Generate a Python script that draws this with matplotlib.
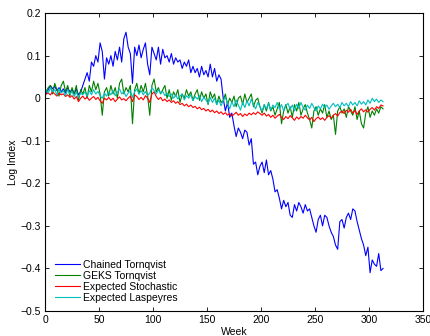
"""Log index comparison: chained vs GEKS Tornqvist and expected indexes."""

import numpy as np
import matplotlib

matplotlib.use("Agg")
import matplotlib.pyplot as plt

weeks = np.arange(1, 314, 2)

chained_tornqvist = [
    0.010, 0.020, 0.030, 0.022, 0.028, 0.018, 0.025, 0.015, 0.022, 0.012,
    0.025, 0.015, 0.020, 0.010, 0.022, 0.008, 0.015, 0.030, 0.045, 0.060,
    0.040, 0.085, 0.075, 0.100, 0.085, 0.130, 0.110, 0.045, 0.095, 0.080,
    0.100, 0.075, 0.110, 0.090, 0.120, 0.085, 0.140, 0.155, 0.120, 0.105,
    0.035, 0.120, 0.100, 0.125, 0.095, 0.115, 0.130, 0.080, 0.055, 0.120,
    0.105, 0.090, 0.120, 0.080, 0.115, 0.095, 0.100, 0.085, 0.105, 0.080,
    0.095, 0.085, 0.090, 0.070, 0.085, 0.075, 0.090, 0.060, 0.075, 0.060,
    0.070, 0.050, 0.075, 0.055, 0.065, 0.050, 0.080, 0.050, 0.070, 0.040,
    0.055, 0.045, 0.000, -0.030, -0.010, -0.045, -0.035, -0.065, -0.090, -0.070,
    -0.080, -0.095, -0.075, -0.080, -0.110, -0.095, -0.155, -0.150, -0.180, -0.160,
    -0.150, -0.175, -0.145, -0.180, -0.170, -0.190, -0.220, -0.215, -0.235, -0.260,
    -0.240, -0.255, -0.245, -0.275, -0.280, -0.250, -0.265, -0.245, -0.255, -0.270,
    -0.250, -0.265, -0.260, -0.280, -0.300, -0.315, -0.285, -0.275, -0.300, -0.275,
    -0.280, -0.300, -0.315, -0.325, -0.345, -0.355, -0.290, -0.285, -0.305, -0.280,
    -0.270, -0.285, -0.260, -0.265, -0.290, -0.310, -0.330, -0.345, -0.370, -0.350,
    -0.410, -0.380, -0.390, -0.395, -0.365, -0.405, -0.400,
]

geks_tornqvist = [
    0.015, 0.025, 0.030, 0.010, 0.035, 0.020, 0.005, 0.030, 0.040, 0.015,
    0.030, 0.005, 0.025, 0.010, 0.030, -0.005, 0.020, 0.010, 0.025, 0.000,
    0.030, 0.015, 0.040, 0.020, 0.035, 0.010, -0.040, 0.015, 0.025, 0.005,
    0.030, 0.010, 0.025, 0.000, 0.035, 0.045, 0.010, 0.025, 0.015, 0.030,
    -0.060, 0.020, 0.035, 0.010, 0.030, 0.015, 0.035, 0.005, -0.040, 0.030,
    0.045, 0.015, 0.025, 0.010, 0.020, 0.030, 0.000, 0.020, -0.005, 0.015,
    0.005, 0.020, -0.010, 0.010, 0.000, 0.020, 0.005, 0.015, -0.005, 0.010,
    0.020, -0.005, 0.015, 0.000, 0.010, -0.015, 0.015, 0.000, 0.010, -0.015,
    0.005, -0.010, -0.005, 0.010, -0.015, 0.000, -0.010, 0.005, -0.020, 0.000,
    0.005, -0.015, 0.010, -0.010, 0.000, 0.010, -0.020, -0.005, 0.000, -0.020,
    -0.035, -0.015, -0.030, -0.010, -0.030, -0.020, -0.040, -0.025, -0.010, -0.060,
    -0.030, -0.015, -0.035, -0.020, -0.045, -0.015, -0.030, -0.010, -0.040, -0.025,
    -0.015, -0.035, -0.050, -0.070, -0.030, -0.020, -0.040, -0.025, -0.035, -0.015,
    -0.045, -0.030, -0.050, -0.040, -0.085, -0.030, -0.020, -0.035, -0.025, -0.045,
    -0.020, -0.030, -0.040, -0.020, -0.050, -0.030, -0.060, -0.070, -0.035, -0.020,
    -0.045, -0.030, -0.040, -0.025, -0.035, -0.020, -0.025,
]

expected_stochastic = [
    0.010, 0.012, 0.008, 0.015, 0.010, 0.005, 0.012, 0.008, 0.010, 0.004,
    0.008, 0.002, 0.006, -0.002, 0.004, -0.008, 0.000, 0.005, -0.002, 0.003,
    -0.005, 0.000, 0.004, -0.003, 0.002, -0.006, -0.012, 0.000, -0.004, 0.002,
    -0.005, 0.000, -0.008, -0.002, 0.003, -0.004, -0.001, -0.006, 0.000, 0.005,
    -0.008, 0.008, 0.004, -0.003, 0.002, -0.004, 0.006, 0.000, -0.010, 0.010,
    0.015, 0.004, -0.003, 0.002, -0.006, -0.002, -0.008, -0.004, -0.010, -0.006,
    -0.012, -0.008, -0.015, -0.012, -0.018, -0.014, -0.020, -0.016, -0.022, -0.019,
    -0.025, -0.021, -0.027, -0.024, -0.030, -0.026, -0.032, -0.028, -0.034, -0.030,
    -0.036, -0.032, -0.038, -0.034, -0.040, -0.036, -0.042, -0.038, -0.033, -0.040,
    -0.036, -0.043, -0.037, -0.041, -0.035, -0.039, -0.034, -0.038, -0.032, -0.036,
    -0.040, -0.035, -0.042, -0.038, -0.045, -0.040, -0.047, -0.042, -0.038, -0.045,
    -0.050, -0.043, -0.048, -0.041, -0.046, -0.052, -0.044, -0.049, -0.043, -0.047,
    -0.040, -0.046, -0.051, -0.045, -0.055, -0.048, -0.044, -0.050, -0.046, -0.052,
    -0.045, -0.041, -0.047, -0.040, -0.036, -0.042, -0.034, -0.030, -0.036, -0.028,
    -0.033, -0.026, -0.035, -0.029, -0.038, -0.030, -0.025, -0.032, -0.027, -0.033,
    -0.026, -0.022, -0.028, -0.020, -0.024, -0.016, -0.018,
]

expected_laspeyres = [
    0.020, 0.012, 0.025, 0.015, 0.020, 0.008, 0.022, 0.012, 0.018, 0.006,
    0.020, 0.010, 0.016, 0.004, 0.014, 0.002, 0.012, 0.008, 0.015, 0.005,
    0.018, 0.008, 0.020, 0.010, 0.016, 0.006, 0.000, 0.012, 0.005, 0.015,
    0.008, 0.018, 0.006, 0.014, 0.022, 0.010, 0.016, 0.004, 0.012, 0.018,
    0.002, 0.015, 0.022, 0.010, 0.018, 0.008, 0.016, 0.006, 0.012, 0.025,
    0.018, 0.010, 0.020, 0.012, 0.016, 0.006, 0.012, 0.004, 0.010, 0.000,
    0.008, -0.002, 0.005, 0.010, -0.004, 0.006, 0.000, 0.008, -0.006, 0.004,
    -0.002, 0.006, -0.008, 0.002, -0.004, -0.012, 0.002, -0.010, 0.000, -0.015,
    -0.004, -0.018, -0.006, 0.002, -0.012, -0.025, -0.008, -0.020, -0.004, -0.016,
    -0.028, -0.010, -0.022, -0.006, -0.018, -0.002, -0.015, -0.025, -0.010, -0.020,
    -0.030, -0.015, -0.025, -0.012, -0.028, -0.016, -0.022, -0.010, -0.025, -0.015,
    -0.030, -0.018, -0.012, -0.026, -0.016, -0.030, -0.014, -0.024, -0.010, -0.022,
    -0.028, -0.016, -0.024, -0.012, -0.022, -0.030, -0.018, -0.025, -0.014, -0.022,
    -0.016, -0.026, -0.018, -0.012, -0.020, -0.014, -0.022, -0.010, -0.018, -0.012,
    -0.020, -0.008, -0.016, -0.010, -0.018, -0.006, -0.014, -0.008, -0.016, -0.004,
    -0.012, 0.000, -0.008, -0.002, -0.010, -0.004, -0.008,
]

series = [
    ("Chained Tornqvist", chained_tornqvist, (0, 0, 1)),
    ("GEKS Tornqvist", geks_tornqvist, (0, 0.5, 0)),
    ("Expected Stochastic", expected_stochastic, (1, 0, 0)),
    ("Expected Laspeyres", expected_laspeyres, (0, 0.75, 0.75)),
]

x_ticks = [0, 50, 100, 150, 200, 250, 300, 350]
y_ticks = [-0.5, -0.4, -0.3, -0.2, -0.1, 0, 0.1, 0.2]
y_tick_labels = ["\u22120.5", "\u22120.4", "\u22120.3", "\u22120.2", "\u22120.1", "0", "0.1", "0.2"]

plt.rcParams["font.family"] = ["Liberation Sans", "DejaVu Sans"]
plt.rcParams["font.size"] = 7.5

fig = plt.figure(figsize=(4.3, 3.36), dpi=100)
ax = fig.add_axes([0.1047, 0.0744, 0.879, 0.8866])

for name, vals, col in series:
    ax.plot(weeks, vals, color=col, linewidth=0.8, label=name)

ax.set_xlim(0, 350)
ax.set_ylim(-0.5, 0.2)
ax.set_xticks(x_ticks)
ax.set_yticks(y_ticks)
ax.set_yticklabels(y_tick_labels)
ax.tick_params(direction="in", top=True, right=True, length=3, width=0.6, pad=3, labelsize=7.5)
for sp in ax.spines.values():
    sp.set_linewidth(0.8)

ax.set_xlabel("Week", fontsize=7.5, labelpad=1)
ax.set_ylabel("Log Index", fontsize=7.5, labelpad=2)

ax.legend(loc="lower left", frameon=False, fontsize=7.5, handlelength=2.4,
          handletextpad=0.3, labelspacing=0.1, borderaxespad=0.4,
          bbox_to_anchor=(0.005, 0.0))

fig.savefig("out.png", dpi=100)
